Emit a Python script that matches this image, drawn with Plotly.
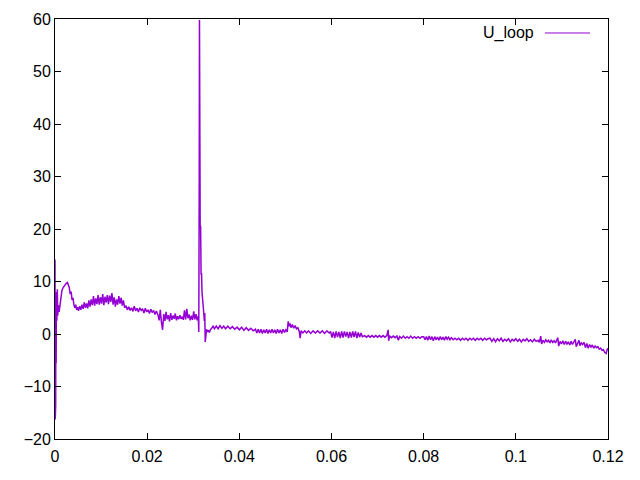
import plotly.graph_objects as go

# ---- data (time, U_loop), segment by segment ----
t_start = [0.0, 0.00005, 0.0001, 0.00015, 0.0002, 0.00025, 0.0003, 0.0004, 0.0005, 0.0006,
           0.0007, 0.0009, 0.0011, 0.0013, 0.0015, 0.0018, 0.0021, 0.0024, 0.0027, 0.0029,
           0.0031, 0.0033, 0.0035, 0.0037, 0.0039, 0.0041, 0.0043, 0.0045, 0.0047, 0.0049]
u_start = [14.2, -16.3, 9.5, -13.5, 8.0, -5.5, 7.0, 2.5, 8.5, 3.5,
           5.5, 4.2, 6.0, 7.2, 8.3, 8.9, 9.4, 9.6, 9.8, 9.2,
           8.8, 7.6, 8.1, 6.5, 6.9, 5.6, 5.0, 5.6, 4.6, 5.1]

t_early = [0.0051, 0.00535, 0.0056, 0.00585, 0.0061, 0.00635, 0.0066, 0.00685, 0.0071, 0.00735,
           0.0076, 0.00785, 0.0081, 0.00835, 0.0086, 0.00885, 0.0091, 0.00935, 0.0096, 0.00985,
           0.0101, 0.01035, 0.0106, 0.01085, 0.0111, 0.01135, 0.0116, 0.01185, 0.0121, 0.01235,
           0.0126, 0.01285, 0.0131, 0.01335, 0.0136, 0.01385, 0.0141, 0.01435, 0.0146, 0.01485, 0.0151]
u_early = [4.4, 5.3, 4.6, 5.6, 4.8, 6.0, 5.0, 5.8, 4.9, 6.4,
           5.2, 6.6, 5.5, 7.2, 5.4, 6.8, 5.7, 7.4, 5.6, 7.0,
           5.8, 7.6, 5.5, 7.1, 6.0, 7.4, 5.7, 7.3, 6.1, 7.8,
           5.6, 7.0, 5.2, 6.6, 5.6, 7.2, 5.8, 6.9, 5.4, 6.4, 5.0]

t_decl = [0.0154, 0.0157, 0.016, 0.0163, 0.0166, 0.0169, 0.0172, 0.0175, 0.0178, 0.0181,
          0.0184, 0.0187, 0.019, 0.0193, 0.0196, 0.0199, 0.0202, 0.0205, 0.0208, 0.0211,
          0.0214, 0.0217, 0.022]
u_decl = [5.4, 4.6, 5.2, 4.5, 5.0, 4.3, 5.3, 4.4, 4.9, 4.2,
          5.0, 4.5, 4.8, 4.0, 4.9, 4.2, 4.6, 3.9, 4.7, 4.1,
          4.5, 3.7, 4.4]

t_pre = [0.02235, 0.0226, 0.02285, 0.0231, 0.02335, 0.0236, 0.02385, 0.0241, 0.02435, 0.0246,
         0.02485, 0.0251, 0.02535, 0.0256, 0.02585, 0.0261, 0.02635, 0.0266, 0.02685, 0.0271,
         0.02735, 0.0276, 0.02785, 0.0281, 0.02835, 0.0286, 0.02885, 0.0291, 0.02935, 0.0296,
         0.02985, 0.0301, 0.03035, 0.0306, 0.03085, 0.0311, 0.0312]
u_pre = [3.6, 2.6, 4.6, 2.2, 0.8, 3.8, 2.5, 4.2, 2.8, 3.6,
         2.4, 4.0, 2.7, 3.5, 2.9, 3.9, 2.6, 3.4, 2.8, 3.6,
         2.9, 3.3, 2.7, 4.5, 2.8, 4.8, 3.0, 3.7, 2.6, 3.5,
         2.7, 4.3, 2.8, 3.8, 2.6, 3.4, 0.4]

t_spike = [0.0313, 0.03135, 0.0314, 0.03145, 0.0315, 0.0316, 0.0317, 0.0318, 0.0319, 0.032,
           0.0321, 0.0322, 0.0323, 0.0324, 0.0325, 0.0326]
u_spike = [30.0, 59.8, 45.0, 35.0, 20.5, 20.5, 11.3, 11.6, 8.0, 7.2,
           5.8, 4.7, 3.8, 2.5, 4.0, -1.5]

t_mid = [0.0329, 0.0331, 0.0333, 0.0335, 0.0337, 0.034, 0.0343, 0.0346, 0.035, 0.0354,
         0.0358, 0.0362, 0.0366, 0.037, 0.0375, 0.038, 0.0385, 0.039, 0.0395, 0.04,
         0.0405, 0.041, 0.0415, 0.042, 0.0425, 0.043, 0.0435, 0.0438, 0.0441, 0.0444,
         0.0447, 0.045, 0.0453, 0.0456, 0.0459, 0.0462, 0.0465, 0.0468, 0.0471, 0.0474,
         0.0477, 0.048, 0.0483, 0.0486, 0.0489, 0.0492, 0.0495, 0.0498, 0.0501, 0.0504,
         0.0506, 0.0508, 0.051, 0.0512, 0.0515, 0.0518, 0.0521, 0.0524, 0.0527, 0.053,
         0.0532, 0.0534, 0.0538, 0.0542, 0.0546, 0.055, 0.0555, 0.056, 0.0565, 0.057,
         0.0575, 0.058, 0.0585, 0.059, 0.0595]
u_mid = [0.9, 0.4, 0.7, 0.3, 0.8, 1.1, 1.5, 1.0, 1.5, 1.0,
         1.6, 1.1, 1.5, 1.0, 1.5, 1.0, 1.4, 0.9, 1.3, 0.8,
         1.3, 0.7, 1.2, 0.7, 1.1, 0.6, 0.9, 0.2, 0.9, 0.2,
         0.9, 0.1, 0.8, 0.2, 0.9, 0.1, 0.8, 0.2, 0.9, 0.2,
         0.8, 0.1, 0.9, 0.2, 0.8, 0.1, 0.9, 0.3, 0.8, 0.4,
         2.4, 1.5, 2.0, 1.2, 1.8, 1.1, 1.6, 1.0, 1.2, 0.5,
         -0.8, 0.6, 0.2, 0.6, 0.2, 0.6, 0.1, 0.6, 0.2, 0.6,
         0.2, 0.6, 0.1, 0.6, 0.2]

t_band = [0.0598, 0.0601, 0.0604, 0.0607, 0.061, 0.0613, 0.0616, 0.0619, 0.0622, 0.0625,
          0.0628, 0.0631, 0.0634, 0.0637, 0.064, 0.0643, 0.0646, 0.0649, 0.0652, 0.0655,
          0.0658, 0.0661, 0.0664, 0.0667]
u_band = [0.5, -0.7, 0.4, -0.8, 0.5, -0.6, 0.4, -0.8, 0.5, -0.7,
          0.5, -0.5, 0.4, -0.8, 0.4, -0.7, 0.5, -0.6, 0.5, -0.8,
          0.3, -0.6, 0.2, -0.5]

t_flat = [0.0672, 0.0676, 0.068, 0.0684, 0.0688, 0.0692, 0.0696, 0.07, 0.0704, 0.0708,
          0.0712, 0.0716, 0.072, 0.0723, 0.0724, 0.0726, 0.073, 0.0734, 0.0738, 0.0742,
          0.0745, 0.0748, 0.0752, 0.0756, 0.076, 0.0764, 0.0768, 0.0772, 0.0776, 0.078,
          0.0784, 0.0788, 0.0792, 0.0796]
u_flat = [-0.3, -0.6, -0.3, -0.6, -0.3, -0.6, -0.3, -0.6, -0.3, -0.6,
          -0.3, -0.6, -0.3, 0.8, -1.3, -0.4, -0.7, -0.4, -0.7, -0.4,
          -1.2, -0.5, -0.8, -0.4, -0.8, -0.5, -0.8, -0.4, -0.8, -0.5,
          -0.8, -0.5, -0.8, -0.5]

t_late = [0.08, 0.0803, 0.0806, 0.0809, 0.0812, 0.0815, 0.0818, 0.0821, 0.0824, 0.0827,
          0.083, 0.0833, 0.0836, 0.0839, 0.0842, 0.0845, 0.0848, 0.0851, 0.0854, 0.0857,
          0.086, 0.0864, 0.0868, 0.0872, 0.0876, 0.088, 0.0884, 0.0888, 0.0892, 0.0896,
          0.09, 0.0904, 0.0908, 0.0912, 0.0916, 0.092, 0.0924, 0.0928, 0.0932, 0.0936,
          0.094]
u_late = [-0.5, -1.1, -0.5, -1.2, -0.4, -1.1, -0.5, -1.3, -0.5, -1.1,
          -0.6, -1.2, -0.5, -1.1, -0.6, -1.2, -0.5, -1.0, -0.6, -1.1,
          -0.7, -1.1, -0.8, -1.1, -0.8, -1.2, -0.8, -1.1, -0.8, -1.2,
          -0.8, -1.1, -0.8, -1.2, -0.8, -1.1, -0.8, -1.2, -0.8, -1.1,
          -0.9]

t_tail = [0.0944, 0.0948, 0.0952, 0.0956, 0.096, 0.0964, 0.0968, 0.0972, 0.0976, 0.098,
          0.0984, 0.0988, 0.0992, 0.0996, 0.1, 0.1004, 0.1008, 0.1012, 0.1016, 0.102,
          0.1024, 0.1028, 0.1032, 0.1036, 0.104, 0.1044]
u_tail = [-0.8, -1.4, -0.9, -1.5, -0.9, -1.3, -0.8, -1.4, -1.0, -1.3,
          -0.9, -1.5, -1.0, -1.3, -0.9, -1.4, -1.0, -1.5, -1.0, -1.3,
          -0.9, -1.4, -1.1, -1.5, -1.0, -1.4]

t_end = [0.1048, 0.1051, 0.1054, 0.1056, 0.1059, 0.1062, 0.1065, 0.1068, 0.1071, 0.1074,
         0.1077, 0.108, 0.1083, 0.1086, 0.1089, 0.1091, 0.1093, 0.1096, 0.1099, 0.1102,
         0.1105, 0.1108, 0.1111, 0.1114, 0.1117, 0.112, 0.1123, 0.1126, 0.1129, 0.1131,
         0.1134, 0.1137, 0.1139, 0.1142, 0.1145, 0.1148, 0.1151, 0.1154, 0.1157, 0.116,
         0.1163, 0.1166, 0.1169, 0.1172, 0.1175, 0.1178, 0.1181, 0.1184, 0.1187, 0.119,
         0.1193, 0.1196, 0.1198, 0.12]
u_end = [-1.2, -1.6, -0.4, -1.9, -1.2, -1.6, -1.1, -1.5, -1.2, -1.7,
         -1.1, -1.6, -1.3, -1.7, -1.2, -0.7, -2.3, -1.4, -1.9, -1.3,
         -2.0, -1.4, -1.9, -1.5, -2.1, -1.4, -2.0, -1.5, -1.0, -2.4,
         -1.6, -1.2, -2.2, -1.7, -2.0, -1.6, -2.6, -1.8, -2.7, -2.0,
         -2.5, -2.1, -2.7, -2.3, -2.6, -2.4, -2.9, -2.7, -3.1, -3.0,
         -3.5, -3.7, -3.0, -2.7]

x_tick_vals = [0, 0.02, 0.04, 0.06, 0.08, 0.1, 0.12]
x_tick_text = ["0", "0.02", "0.04", "0.06", "0.08", "0.1", "0.12"]
y_tick_vals = [-20, -10, 0, 10, 20, 30, 40, 50, 60]

series_name = "U_loop"
line_color = "#9400D3"

t = t_start + t_early + t_decl + t_pre + t_spike + t_mid + t_band + t_flat + t_late + t_tail + t_end
u = u_start + u_early + u_decl + u_pre + u_spike + u_mid + u_band + u_flat + u_late + u_tail + u_end

fig = go.Figure()
fig.add_trace(go.Scatter(x=t, y=u, mode="lines", name=series_name,
                         line=dict(color=line_color, width=1.5), showlegend=False))

font = dict(family="Liberation Sans, Arial, sans-serif", size=16, color="black")
axis_common = dict(showline=True, linecolor="black", linewidth=1, mirror="ticks",
                   ticks="inside", ticklen=6, tickcolor="black", showgrid=False,
                   zeroline=False, tickfont=font, automargin=False)

# the page body adds an 8 px offset, so the figure is 632x472 and margins are shifted
fig.update_layout(
    width=632, height=472,
    margin=dict(l=47, r=32, t=11, b=41),
    paper_bgcolor="white", plot_bgcolor="white",
    xaxis=dict(range=[0, 0.12], tickvals=x_tick_vals, ticktext=x_tick_text,
               ticklabelstandoff=3, **axis_common),
    yaxis=dict(range=[-20, 60], tickvals=y_tick_vals, ticklabelstandoff=0, **axis_common),
    font=font,
)

# gnuplot-style key: text left, line sample right
fig.add_annotation(xref="paper", yref="paper", x=0.869, y=0.9667, text=series_name,
                   showarrow=False, xanchor="right", yanchor="middle", font=font)
fig.add_shape(type="line", xref="paper", yref="paper", x0=0.886, x1=0.9675,
              y0=0.9667, y1=0.9667, line=dict(color=line_color, width=1))

fig.write_html("out.html")
